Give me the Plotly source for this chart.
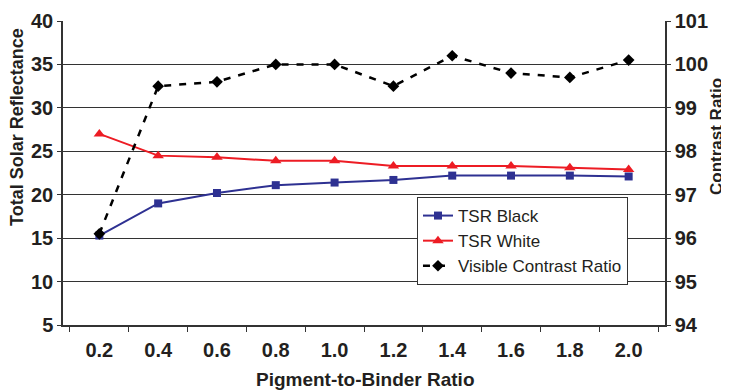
import plotly.graph_objects as go

ratios = ["0.2", "0.4", "0.6", "0.8", "1.0", "1.2", "1.4", "1.6", "1.8", "2.0"]
tsr_black = [15.3, 19.0, 20.2, 21.1, 21.4, 21.7, 22.2, 22.2, 22.2, 22.1]
tsr_white = [27.0, 24.5, 24.3, 23.9, 23.9, 23.3, 23.3, 23.3, 23.1, 22.9]
contrast_ratio = [96.1, 99.5, 99.6, 100.0, 100.0, 99.5, 100.2, 99.8, 99.7, 100.1]

txt = "#231f20"
font_family = "Liberation Sans Narrow, Liberation Sans, Arial, sans-serif"
title_family = "Liberation Sans, Arial, sans-serif"

# page body has an 8px margin; figure sized so the plot area lands where the reference has it
OFF = 8
W, H = 729 - OFF, 391 - OFF
l, r, t, b = 63 - OFF, 64, 21 - OFF, 66
pw, ph = W - l - r, H - t - b

fig = go.Figure()
fig.add_trace(go.Scatter(x=ratios, y=tsr_black, name="TSR Black", mode="lines+markers",
                         line=dict(color="#2e3192", width=2),
                         marker=dict(symbol="square", size=8, color="#2e3192")))
fig.add_trace(go.Scatter(x=ratios, y=tsr_white, name="TSR White", mode="lines+markers",
                         line=dict(color="#ed1c24", width=2),
                         marker=dict(symbol="triangle-up", size=10, color="#ed1c24")))
fig.add_trace(go.Scatter(x=ratios, y=contrast_ratio, name="Visible Contrast Ratio", mode="lines+markers",
                         yaxis="y2",
                         line=dict(color="#000000", width=2.5, dash="7px,8px"),
                         marker=dict(symbol="diamond", size=9, color="#000000")))


def title_annot(text, px, py, angle, family, size):
    return dict(text=text, x=(px - OFF - l) / pw, y=(H - b - (py - OFF)) / ph,
                xref="paper", yref="paper", showarrow=False, textangle=angle,
                xanchor="center", yanchor="middle",
                font=dict(size=size, family=family, color=txt, weight="bold"))


fig.update_layout(
    width=W, height=H,
    margin=dict(l=l, r=r, t=t, b=b, autoexpand=False),
    paper_bgcolor="white", plot_bgcolor="white",
    font=dict(family=font_family, color=txt),
    xaxis=dict(type="category", tickson="boundaries", ticks="outside", ticklen=5,
               tickcolor="#333", showgrid=False, showline=True, linecolor="#333", linewidth=1.5,
               automargin=False, ticklabelstandoff=6,
               tickfont=dict(size=20, family=font_family, color=txt, weight="bold")),
    yaxis=dict(range=[5, 40], dtick=5, tick0=5, ticks="outside", ticklen=4, tickcolor="#333",
               showline=True, linecolor="#333", linewidth=1.5, automargin=False,
               showgrid=True, gridcolor="#333", gridwidth=1.2, zeroline=False,
               tickfont=dict(size=20, color=txt, weight="bold")),
    yaxis2=dict(range=[94, 101], dtick=1, tick0=94, overlaying="y", side="right",
                ticks="outside", ticklen=4, tickcolor="#333", automargin=False,
                showline=True, linecolor="#333", linewidth=1.5, showgrid=False, zeroline=False,
                tickfont=dict(size=20, color=txt, weight="bold")),
    legend=dict(x=0.588, y=0.421, xanchor="left", yanchor="top",
                bgcolor="white", bordercolor="#333", borderwidth=1, itemwidth=30,
                font=dict(size=17, family=title_family, color=txt), tracegroupgap=0),
    showlegend=True,
    annotations=[
        title_annot("Total Solar Reflectance", 17, 127, -90, title_family, 18),
        title_annot("Contrast Ratio", 716, 137, -90, title_family, 17),
        title_annot("Pigment-to-Binder Ratio", 365, 379, 0, font_family, 19),
    ],
)

fig.write_html("out.html")
